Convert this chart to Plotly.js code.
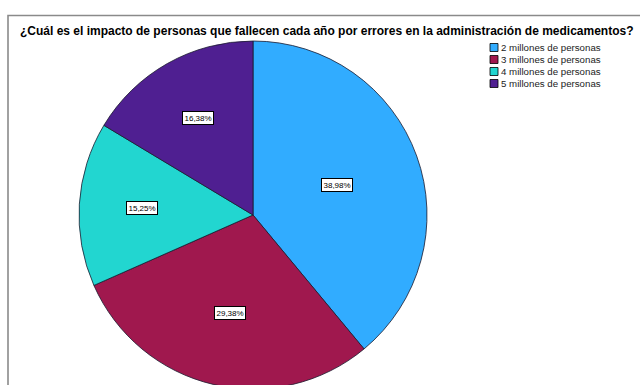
<!DOCTYPE html>
<html>
<head>
<meta charset="utf-8">
<script src="https://cdn.plot.ly/plotly-3.0.1.min.js"></script>
<style>
html,body{margin:0;padding:0;overflow:hidden;background:#fff;}
#chart{width:640px;height:400px;}
</style>
</head>
<body>
<div id="chart"></div>
<script>
// Data
const labels = ["2 millones de personas", "3 millones de personas", "4 millones de personas", "5 millones de personas"];
const values = [38.98, 29.38, 15.25, 16.38];
const valueText = ["38,98%", "29,38%", "15,25%", "16,38%"];
const colors = ["#31acff", "#a0184e", "#22d6d0", "#4f1f91"];
const titleText = "¿Cuál es el impacto de personas que fallecen cada año por errores en la administración de medicamentos?";

// Layout geometry (px)
const W = 640, H = 400;
const cx = 253, cy = 215, R = 174;

const trace = {
  type: "pie",
  values: values,
  labels: labels,
  sort: false,
  direction: "clockwise",
  rotation: 0,
  textinfo: "none",
  hoverinfo: "none",
  showlegend: false,
  marker: {colors: colors, line: {color: "#1a1a2e", width: 0.8}},
  domain: {x: [(cx - R) / W, (cx + R) / W], y: [(H - (cy + R)) / H, (H - (cy - R)) / H]}
};

// Percentage labels placed at sector centroids computed from the data
const total = values.reduce((a, b) => a + b, 0);
const annotations = [];
let cum = 0;
values.forEach((v, i) => {
  const frac = v / total;
  const theta = frac * 2 * Math.PI;
  const mid = (cum + frac / 2) * 2 * Math.PI;
  cum += frac;
  const d = (4 * R * Math.sin(theta / 2)) / (3 * theta);
  const px = cx + d * Math.sin(mid);
  const py = cy - d * Math.cos(mid);
  annotations.push({
    xref: "paper", yref: "paper",
    x: px / W, y: (H - py) / H,
    xanchor: "center", yanchor: "middle",
    text: valueText[i],
    showarrow: false,
    font: {family: "Liberation Sans, Arial, sans-serif", size: 8, color: "#000"},
    bgcolor: "#ffffff", bordercolor: "#000000", borderwidth: 1, borderpad: 1.5
  });
});

// Manual compact legend
const shapes = [];
const legX = 490, legY0 = 47.5, legStep = 12, sw = 8;
labels.forEach((lab, i) => {
  const yc = legY0 + i * legStep;
  shapes.push({
    type: "rect", xref: "paper", yref: "paper",
    x0: legX / W, x1: (legX + sw) / W,
    y0: (H - (yc - sw / 2)) / H, y1: (H - (yc + sw / 2)) / H,
    fillcolor: colors[i], line: {color: "#000", width: 0.8}
  });
  annotations.push({
    xref: "paper", yref: "paper",
    x: (legX + sw + 0.5) / W, y: (H - yc) / H,
    xanchor: "left", yanchor: "middle",
    text: lab, showarrow: false,
    font: {family: "Liberation Sans, Arial, sans-serif", size: 9.7, color: "#222"}
  });
});

// Outer frame
shapes.push({
  type: "rect", xref: "paper", yref: "paper",
  x0: 8 / W, x1: 700 / W, y0: -0.2, y1: (H - 15.5) / H,
  line: {color: "#8a8a8a", width: 1.6}, fillcolor: "rgba(0,0,0,0)", layer: "below"
});

const layout = {
  width: W, height: H,
  margin: {l: 0, r: 0, t: 0, b: 0},
  paper_bgcolor: "#ffffff",
  title: {
    text: "<b>" + titleText + "</b>",
    x: 20 / W, xanchor: "left", xref: "paper",
    y: 1 - 31 / H, yanchor: "middle", yref: "container",
    font: {family: "Liberation Sans, Arial, sans-serif", size: 12, color: "#000"}
  },
  showlegend: false,
  annotations: annotations,
  shapes: shapes
};

Plotly.newPlot("chart", [trace], layout, {displayModeBar: false, staticPlot: true});
</script>
</body>
</html>
